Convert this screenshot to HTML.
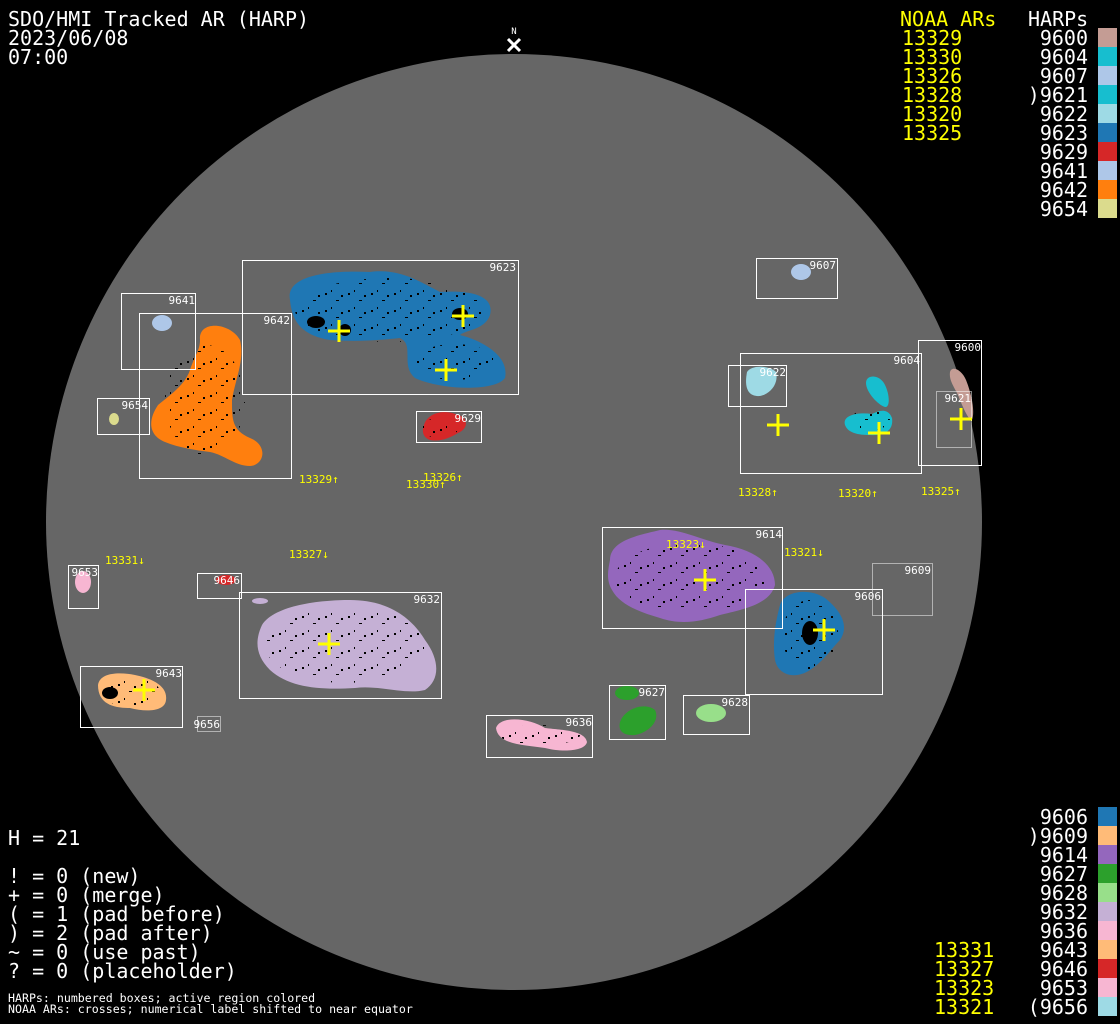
<!DOCTYPE html>
<html><head><meta charset="utf-8"><style>
html,body{margin:0;padding:0;background:#000;}
svg{display:block;}
.t{font-family:"DejaVu Sans Mono","Liberation Mono",monospace;}
</style></head><body>
<svg width="1120" height="1024" viewBox="0 0 1120 1024" xmlns="http://www.w3.org/2000/svg">
<defs>
<pattern id="sp" width="23" height="17" patternUnits="userSpaceOnUse">
<rect x="3" y="4" width="2" height="2" fill="#000"/><rect x="14" y="11" width="3" height="1" fill="#000"/><rect x="9" y="1" width="1" height="2" fill="#000"/><rect x="19" y="6" width="2" height="2" fill="#000"/>
</pattern>
</defs>
<rect width="1120" height="1024" fill="#000"/>
<circle cx="514" cy="522" r="468" fill="#666"/>

<!-- regions -->
<g>
<path d="M290,300 C285,275 330,270 370,272 C400,268 420,282 440,292 C470,290 495,295 490,315 C485,330 465,330 460,335 C480,340 510,355 505,378 C495,392 440,390 415,378 C400,365 415,345 400,338 C380,340 360,342 330,340 C300,335 292,320 290,300 Z" fill="#1f77b4"/>
<path d="M200,340 C198,320 230,322 240,340 C245,360 235,380 232,400 C232,420 232,430 250,438 C268,445 265,465 250,466 C235,466 225,455 210,452 C195,450 180,448 165,442 C148,435 148,420 158,405 C170,395 185,385 190,370 C195,355 200,350 200,340 Z" fill="#ff7f0e"/>
<ellipse cx="162" cy="323" rx="10" ry="8" fill="#aec7e8"/>
<ellipse cx="114" cy="419" rx="5" ry="6" fill="#dbdb8d"/>
<path d="M424,425 C428,412 445,410 455,414 C468,416 470,428 458,433 C450,438 440,442 430,440 C422,437 422,430 424,425 Z" fill="#d62728"/>
<ellipse cx="801" cy="272" rx="10" ry="8" fill="#aec7e8"/>
<path d="M747,372 C752,364 770,366 776,372 C779,384 770,394 760,396 C748,397 744,388 747,372 Z" fill="#9edae5"/>
<path d="M866,383 C866,374 880,374 885,385 C890,395 890,408 885,407 C878,405 866,392 866,383 Z" fill="#17becf"/>
<path d="M845,425 C842,415 858,412 872,414 C880,410 888,408 892,418 C894,432 882,436 870,435 C858,435 848,433 845,425 Z" fill="#17becf"/>
<path d="M950,372 C952,365 962,370 966,380 C972,395 975,412 972,420 C968,420 962,405 958,395 C953,385 949,380 950,372 Z" fill="#c49c94"/>
<path d="M610,560 C610,540 640,535 660,530 C680,528 700,540 725,545 C755,550 775,565 775,585 C770,605 740,610 720,615 C700,622 680,625 660,618 C640,612 620,605 612,590 C606,580 608,570 610,560 Z" fill="#9467bd"/>
<path d="M780,605 C785,590 810,588 825,598 C840,610 850,625 840,640 C830,650 825,660 810,670 C795,680 778,675 775,660 C772,640 776,620 780,605 Z" fill="#1f77b4"/>
<ellipse cx="83" cy="582" rx="8" ry="11" fill="#f7b6d2"/>
<ellipse cx="226" cy="580" rx="10" ry="5" fill="#d62728"/>
<ellipse cx="260" cy="601" rx="8" ry="3" fill="#c5b0d5"/>
<path d="M262,625 C275,605 320,600 350,600 C385,600 410,615 425,640 C440,660 440,680 425,690 C405,695 380,685 355,688 C320,690 290,688 270,670 C255,655 255,640 262,625 Z" fill="#c5b0d5"/>
<path d="M98,685 C100,672 120,672 135,675 C150,678 168,685 166,700 C165,712 145,712 130,708 C115,708 98,705 98,685 Z" fill="#ffbb78"/>
<path d="M496,728 C500,715 530,718 545,728 C560,730 585,730 587,742 C585,752 560,752 545,748 C525,745 498,745 496,728 Z" fill="#f7b6d2"/>
<ellipse cx="627" cy="693" rx="12" ry="7" fill="#2ca02c"/>
<path d="M620,722 C625,708 645,702 655,710 C660,720 650,732 635,735 C622,736 618,730 620,722 Z" fill="#2ca02c"/>
<ellipse cx="711" cy="713" rx="15" ry="9" fill="#98df8a"/>
</g>

<!-- speckles within regions -->
<g fill="url(#sp)">
<ellipse cx="390" cy="310" rx="95" ry="32"/><ellipse cx="455" cy="362" rx="40" ry="18"/>
<ellipse cx="205" cy="400" rx="40" ry="55"/><ellipse cx="690" cy="578" rx="75" ry="35"/>
<ellipse cx="345" cy="645" rx="80" ry="38"/><ellipse cx="810" cy="635" rx="28" ry="35"/>
<ellipse cx="130" cy="692" rx="30" ry="14"/><ellipse cx="540" cy="735" rx="40" ry="10"/>
<ellipse cx="440" cy="428" rx="18" ry="10"/><ellipse cx="870" cy="420" rx="20" ry="10"/>
</g>
<g fill="#000">
<ellipse cx="316" cy="322" rx="9" ry="6"/><ellipse cx="345" cy="330" rx="6" ry="6"/><ellipse cx="460" cy="314" rx="8" ry="6"/>
<ellipse cx="810" cy="633" rx="8" ry="12"/><ellipse cx="110" cy="693" rx="8" ry="6"/>
</g>

<!-- boxes -->
<g fill="none" stroke="#fff" stroke-width="1">
<rect x="242.5" y="260.5" width="276" height="134"/>
<rect x="121.5" y="293.5" width="74" height="76"/>
<rect x="139.5" y="313.5" width="152" height="165"/>
<rect x="97.5" y="398.5" width="52" height="36"/>
<rect x="416.5" y="411.5" width="65" height="31"/>
<rect x="756.5" y="258.5" width="81" height="40"/>
<rect x="740.5" y="353.5" width="181" height="120"/>
<rect x="728.5" y="365.5" width="58" height="41"/>
<rect x="918.5" y="340.5" width="63" height="125"/>
<rect x="602.5" y="527.5" width="180" height="101"/>
<rect x="745.5" y="589.5" width="137" height="105"/>
<rect x="68.5" y="565.5" width="30" height="43"/>
<rect x="197.5" y="573.5" width="44" height="25"/>
<rect x="239.5" y="592.5" width="202" height="106"/>
<rect x="80.5" y="666.5" width="102" height="61"/>
<rect x="486.5" y="715.5" width="106" height="42"/>
<rect x="609.5" y="685.5" width="56" height="54"/>
<rect x="683.5" y="695.5" width="66" height="39"/>
</g>
<g fill="none" stroke="#fff" stroke-width="1" stroke-dasharray="1,1">
<rect x="936.5" y="391.5" width="35" height="56"/>
<rect x="872.5" y="563.5" width="60" height="52"/>
<rect x="197.5" y="716.5" width="23" height="15"/>
</g>

<!-- box labels -->
<g class="t" fill="#fff" font-size="11" text-anchor="end">
<text x="516" y="271">9623</text><text x="195" y="304">9641</text><text x="290" y="324">9642</text>
<text x="148" y="409">9654</text><text x="481" y="422">9629</text><text x="836" y="269">9607</text>
<text x="920" y="364">9604</text><text x="786" y="376">9622</text><text x="981" y="351">9600</text>
<text x="971" y="402">9621</text><text x="782" y="538">9614</text><text x="881" y="600">9606</text>
<text x="931" y="574">9609</text><text x="98" y="576">9653</text><text x="240" y="584">9646</text>
<text x="440" y="603">9632</text><text x="182" y="677">9643</text><text x="220" y="728">9656</text>
<text x="592" y="726">9636</text><text x="665" y="696">9627</text><text x="748" y="706">9628</text>
</g>

<!-- crosses -->
<g stroke="#ff0" stroke-width="3">
<path d="M328,331h22M339,320v22"/><path d="M452,316h22M463,305v22"/><path d="M435,370h22M446,359v22"/>
<path d="M767,425h22M778,414v22"/><path d="M868,433h22M879,422v22"/><path d="M950,419h22M961,408v22"/>
<path d="M694,580h22M705,569v22"/><path d="M813,630h22M824,619v22"/><path d="M318,644h22M329,633v22"/>
<path d="M133,690h22M144,679v22"/>
</g>

<!-- NOAA labels -->
<g class="t" fill="#ff0" font-size="11">
<text x="299" y="483">13329↑</text><text x="406" y="488">13330↑</text><text x="423" y="481">13326↑</text>
<text x="738" y="496">13328↑</text><text x="838" y="497">13320↑</text><text x="921" y="495">13325↑</text>
<text x="105" y="564">13331↓</text><text x="289" y="558">13327↓</text><text x="666" y="548">13323↓</text>
<text x="784" y="556">13321↓</text>
</g>

<!-- N marker -->
<text class="t" x="514" y="34" fill="#fff" font-size="9" text-anchor="middle">N</text>
<path d="M508,39l12,12M520,39l-12,12" stroke="#fff" stroke-width="3"/>

<!-- header -->
<g class="t" fill="#fff" font-size="20">
<text x="8" y="26">SDO/HMI Tracked AR (HARP)</text>
<text x="8" y="45">2023/06/08</text>
<text x="8" y="64">07:00</text>
</g>

<!-- top legend -->
<g class="t" font-size="20">
<text x="900" y="26" fill="#ff0">NOAA ARs</text>
<text x="1028" y="26" fill="#fff">HARPs</text>
<g fill="#ff0">
<text x="902" y="45">13329</text><text x="902" y="64">13330</text><text x="902" y="83">13326</text>
<text x="902" y="102">13328</text><text x="902" y="121">13320</text><text x="902" y="140">13325</text>
</g>
<g fill="#fff" text-anchor="end">
<text x="1088" y="45">9600</text><text x="1088" y="64">9604</text><text x="1088" y="83">9607</text>
<text x="1088" y="102">)9621</text><text x="1088" y="121">9622</text><text x="1088" y="140">9623</text>
<text x="1088" y="159">9629</text><text x="1088" y="178">9641</text><text x="1088" y="197">9642</text>
<text x="1088" y="216">9654</text>
</g>
</g>
<g>
<rect x="1098" y="28" width="19" height="19" fill="#c49c94"/>
<rect x="1098" y="47" width="19" height="19" fill="#17becf"/>
<rect x="1098" y="66" width="19" height="19" fill="#aec7e8"/>
<rect x="1098" y="85" width="19" height="19" fill="#17becf"/>
<rect x="1098" y="104" width="19" height="19" fill="#9edae5"/>
<rect x="1098" y="123" width="19" height="19" fill="#1f77b4"/>
<rect x="1098" y="142" width="19" height="19" fill="#d62728"/>
<rect x="1098" y="161" width="19" height="19" fill="#aec7e8"/>
<rect x="1098" y="180" width="19" height="19" fill="#ff7f0e"/>
<rect x="1098" y="199" width="19" height="19" fill="#dbdb8d"/>
</g>

<!-- bottom left legend -->
<g class="t" fill="#fff" font-size="20">
<text x="8" y="845">H = 21</text>
<text x="8" y="883">! = 0 (new)</text>
<text x="8" y="902">+ = 0 (merge)</text>
<text x="8" y="921">( = 1 (pad before)</text>
<text x="8" y="940">) = 2 (pad after)</text>
<text x="8" y="959">~ = 0 (use past)</text>
<text x="8" y="978">? = 0 (placeholder)</text>
</g>
<g class="t" fill="#fff" font-size="11.6">
<text x="8" y="1002">HARPs: numbered boxes; active region colored</text>
<text x="8" y="1013">NOAA ARs: crosses; numerical label shifted to near equator</text>
</g>

<!-- bottom right legend -->
<g class="t" font-size="20">
<g fill="#fff" text-anchor="end">
<text x="1088" y="824">9606</text><text x="1088" y="843">)9609</text><text x="1088" y="862">9614</text>
<text x="1088" y="881">9627</text><text x="1088" y="900">9628</text><text x="1088" y="919">9632</text>
<text x="1088" y="938">9636</text><text x="1088" y="957">9643</text><text x="1088" y="976">9646</text>
<text x="1088" y="995">9653</text><text x="1088" y="1014">(9656</text>
</g>
<g fill="#ff0">
<text x="934" y="957">13331</text><text x="934" y="976">13327</text><text x="934" y="995">13323</text><text x="934" y="1014">13321</text>
</g>
</g>
<g>
<rect x="1098" y="807" width="19" height="19" fill="#1f77b4"/>
<rect x="1098" y="826" width="19" height="19" fill="#ffbb78"/>
<rect x="1098" y="845" width="19" height="19" fill="#9467bd"/>
<rect x="1098" y="864" width="19" height="19" fill="#2ca02c"/>
<rect x="1098" y="883" width="19" height="19" fill="#98df8a"/>
<rect x="1098" y="902" width="19" height="19" fill="#c5b0d5"/>
<rect x="1098" y="921" width="19" height="19" fill="#f7b6d2"/>
<rect x="1098" y="940" width="19" height="19" fill="#ffbb78"/>
<rect x="1098" y="959" width="19" height="19" fill="#d62728"/>
<rect x="1098" y="978" width="19" height="19" fill="#f7b6d2"/>
<rect x="1098" y="997" width="19" height="19" fill="#9edae5"/>
</g>
</svg>
</body></html>
